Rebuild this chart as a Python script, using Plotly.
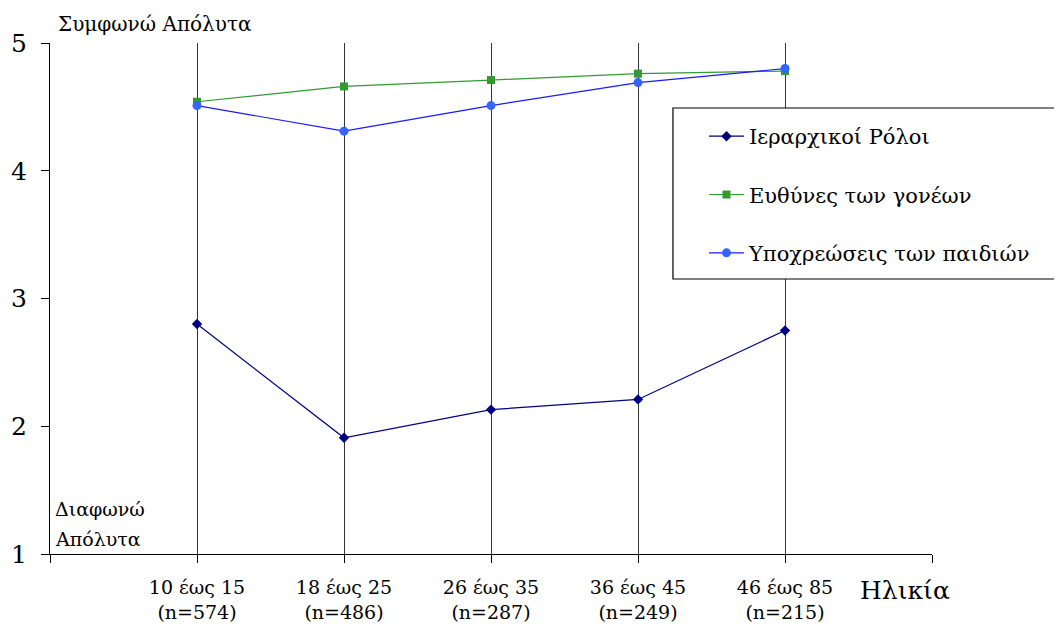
import plotly.graph_objects as go

categories = ["10 έως 15", "18 έως 25", "26 έως 35", "36 έως 45", "46 έως 85"]
sample_sizes = ["574", "486", "287", "249", "215"]
hierarchical_roles = [2.80, 1.91, 2.13, 2.21, 2.75]
parent_responsibilities = [4.54, 4.66, 4.71, 4.76, 4.78]
child_obligations = [4.51, 4.31, 4.51, 4.69, 4.80]
y_ticks = [1, 2, 3, 4, 5]

x_pos = list(range(1, len(categories) + 1))
tick_text = [""] + [f"{c}<br>(n={n})" for c, n in zip(categories, sample_sizes)] + [""]
tick_vals = list(range(0, len(categories) + 2))

FONT = "DejaVu Serif"

fig = go.Figure()
fig.add_trace(go.Scatter(x=x_pos, y=hierarchical_roles, mode="lines+markers",
                         name="Ιεραρχικοί Ρόλοι", legendgroup="a",
                         line=dict(color="#000080", width=1.2),
                         marker=dict(symbol="diamond", size=8, color="#000080")))
fig.add_trace(go.Scatter(x=x_pos, y=parent_responsibilities, mode="lines+markers",
                         name="Ευθύνες των γονέων", legendgroup="b",
                         line=dict(color="#339933", width=1.2),
                         marker=dict(symbol="square", size=8, color="#339933")))
fig.add_trace(go.Scatter(x=x_pos, y=child_obligations, mode="lines+markers",
                         name="Υποχρεώσεις των παιδιών", legendgroup="c",
                         line=dict(color="#1a1aff", width=1.2),
                         marker=dict(symbol="circle", size=9, color="#3366ff")))

# legend frame
fig.add_shape(type="rect", xref="paper", yref="paper",
              x0=0.7063, x1=1.1440, y0=0.5382, y1=0.8728,
              line=dict(color="black", width=1.2), fillcolor="white", layer="above")

fig.update_layout(
    width=1054, height=626,
    margin=dict(l=42, r=130, t=35, b=80, autoexpand=False),
    paper_bgcolor="white", plot_bgcolor="white",
    font=dict(family=FONT, color="black", size=20),
    showlegend=True,
    legend=dict(x=0.7415, y=0.857, xanchor="left", yanchor="top",
                borderwidth=0, bgcolor="rgba(0,0,0,0)",
                font=dict(family=FONT, size=21), tracegroupgap=28,
                itemwidth=35),
    xaxis=dict(range=[0, len(categories) + 1], tickmode="array",
               tickvals=tick_vals, ticktext=tick_text,
               showline=True, linecolor="black", linewidth=1,
               ticks="outside", ticklen=8, tickcolor="black",
               showgrid=True, gridcolor="#333333", gridwidth=1,
               zeroline=False, tickfont=dict(size=19, family=FONT),
               ticklabelstandoff=8, automargin=False, fixedrange=True),
    yaxis=dict(range=[1, 5], tickmode="array", tickvals=y_ticks,
               showline=True, linecolor="black", linewidth=1,
               ticks="outside", ticklen=8, tickcolor="black",
               showgrid=False, zeroline=False,
               tickfont=dict(size=25, family=FONT),
               ticklabelstandoff=9, automargin=False, fixedrange=True),
)

fig.add_annotation(text="Συμφωνώ Απόλυτα", xref="paper", yref="paper",
                   x=0.0, y=1.0, xanchor="left", yanchor="middle", xshift=6, yshift=19,
                   showarrow=False, font=dict(size=20, family=FONT))
fig.add_annotation(text="Διαφωνώ", xref="paper", yref="paper",
                   x=0.0, y=0.0, xanchor="left", yanchor="middle", xshift=3, yshift=45,
                   showarrow=False, font=dict(size=19, family=FONT))
fig.add_annotation(text="Απόλυτα", xref="paper", yref="paper",
                   x=0.0, y=0.0, xanchor="left", yanchor="middle", xshift=3, yshift=15,
                   showarrow=False, font=dict(size=19, family=FONT))
fig.add_annotation(text="Ηλικία", xref="paper", yref="paper",
                   x=0.916, y=0.0, xanchor="left", yanchor="middle", yshift=-36,
                   showarrow=False, font=dict(size=25, family=FONT))

fig.write_html("out.html")
